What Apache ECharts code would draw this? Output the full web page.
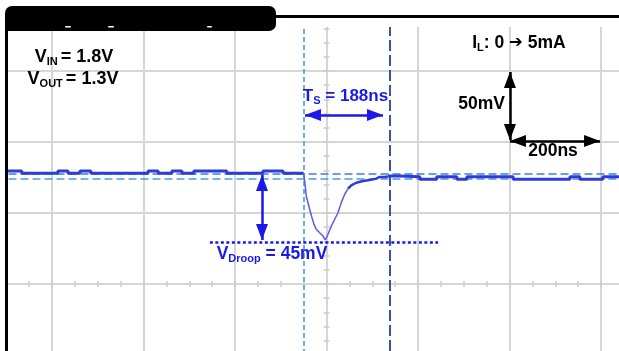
<!DOCTYPE html>
<html>
<head>
<meta charset="utf-8">
<script src="https://cdn.jsdelivr.net/npm/echarts@6.0.0/dist/echarts.min.js"></script>
<style>
html,body{margin:0;padding:0;background:#fff;}
#c{width:619px;height:351px;}
</style>
</head>
<body>
<div id="c"></div>
<script>
// ---- data (time in ns, voltage deviation in mV; scope: 200 ns/div, 50 mV/div) ----
const leftTrace = [[-700,79.5],[-666,78],[-587,79.5],[-565,78],[-539,79.5],[-515,78],[-390,79.5],[-368,78],[-338,79.5],[-316,78],[-290,79.5],[-218,78],[-139,79.5],[-95,78],[-50,78]];
const dipTrace = [[-50,78],[-47.7,72.5],[-44.2,62.0],[-36.7,52.6],[-31.7,46.7],[-27.3,42.0],[-22.3,38.5],[-14.9,36.1],[-7.7,33.8],[-2.6,31.0],[3.3,35.0],[10.5,40.8],[17.9,45.6],[25.1,50.2],[32.3,57.3],[39.8,63.2],[47.0,67.1]];
const recoveryTrace = [[47.0,67.1],[54.2,69.5],[65.1,71.3],[79.8,72.5],[94.4,73.2],[108.9,74.2],[116.3,75.4],[130.7,75.4],[134,76]];
const rightTrace = [[134,76],[161,75.5],[204,73.7],[241,75.5],[285,73.7],[307,75.5],[408,73.7],[532,75.5],[554,73.7],[604,75.5],[650,75.5]];
const timeCursors = [-50, 138];
const voltCursors = [74.3, 77.8];
const tsArrow = [[-47, 119], [123.5, 119]];
const droopArrow = [[-141, 76.8], [-141, 31]];
const droopLine = [[-255, 29.6], [244, 29.6]];
const scaleVArrow = [[401, 149.3], [401, 101.4]];
const scaleHArrow = [[401, 100.7], [598, 100.7]];
const timeTicks = [-800, 800, 200];
const voltTicks = [-100, 200, 50];

const FONT = '"Liberation Sans", Arial, sans-serif';
const BLUE = '#1a1ae6';
const TRACE = '#2f3bd6';
const GRID = '#d6d6d6';

function rt(fill, size, sub) {
  return {
    m: {fontSize: size, fontWeight: 'bold', fontFamily: FONT, fill: fill, lineHeight: 22},
    s: {fontSize: sub, fontWeight: 'bold', fontFamily: FONT, fill: fill, lineHeight: 13, verticalAlign: 'bottom'},
    a: {fontSize: size - 1, fontWeight: 'bold', fontFamily: '"DejaVu Sans", sans-serif', fill: fill, lineHeight: 22}
  };
}
function txt(text, x, y, align, fill, size, sub) {
  return {type: 'text', z: 102, style: {text: text, x: x, y: y, align: align, textAlign: align,
    verticalAlign: 'middle', textVerticalAlign: 'middle', rich: rt(fill, size, sub)}};
}

const chart = echarts.init(document.getElementById('c'), null, {renderer: 'canvas'});
const hidden = {axisLine: {show: false}, axisLabel: {show: false}, splitLine: {show: false}};
const minorStyle = {color: '#cccccc', width: 1.5};

chart.setOption({
  animation: false,
  backgroundColor: '#ffffff',
  grid: [
    {left: -39.5, right: -73.5, top: 0, bottom: -75, outerBoundsMode: 'none'},
    {left: -39.5, right: -73.5, top: 0, height: 287, outerBoundsMode: 'none'},
    {left: 323.5, width: 6, top: 0, bottom: -75, outerBoundsMode: 'none'}
  ],
  xAxis: [
    {gridIndex: 0, type: 'value', min: timeTicks[0], max: timeTicks[1], interval: timeTicks[2],
     axisLine: {show: false}, axisTick: {show: false}, axisLabel: {show: false},
     splitLine: {show: true, lineStyle: {color: GRID, width: 2}}},
    Object.assign({gridIndex: 1, type: 'value', min: timeTicks[0], max: timeTicks[1], interval: timeTicks[2], position: 'bottom',
     axisTick: {show: true, inside: true, length: 6, lineStyle: minorStyle},
     minorTick: {show: true, splitNumber: 4, length: 6, lineStyle: minorStyle}}, hidden),
    {gridIndex: 2, type: 'value', show: false, min: 0, max: 1}
  ],
  yAxis: [
    {gridIndex: 0, type: 'value', min: voltTicks[0], max: voltTicks[1], interval: voltTicks[2],
     axisLine: {show: false}, axisTick: {show: false}, axisLabel: {show: false},
     splitLine: {show: true, lineStyle: {color: GRID, width: 2}}},
    {gridIndex: 1, type: 'value', show: false, min: 0, max: 1},
    Object.assign({gridIndex: 2, type: 'value', min: voltTicks[0], max: voltTicks[1], interval: voltTicks[2], position: 'left',
     axisTick: {show: true, inside: true, length: 6, lineStyle: minorStyle},
     minorTick: {show: true, splitNumber: 5, length: 6, lineStyle: minorStyle}}, hidden)
  ],
  series: [
    {type: 'line', xAxisIndex: 0, yAxisIndex: 0, data: leftTrace, step: 'end', showSymbol: false, silent: true, z: 3,
     lineStyle: {color: TRACE, width: 3}, itemStyle: {color: TRACE},
     markLine: {silent: true, z: 1, symbol: ['none', 'none'], label: {show: false}, animation: false,
       lineStyle: {type: 'solid'}, emphasis: {disabled: true},
       data: [
         {xAxis: timeCursors[0], lineStyle: {color: '#4a90e2', width: 1.5, type: [5, 3]}},
         {xAxis: timeCursors[1], lineStyle: {color: '#36569f', width: 2, type: [11, 4]}},
         {yAxis: voltCursors[0], lineStyle: {color: '#4f98e6', width: 1.5, type: [8, 4]}},
         {yAxis: voltCursors[1], lineStyle: {color: '#3a7fdc', width: 1.5, type: [8, 4]}}
       ]}},
    {type: 'line', xAxisIndex: 0, yAxisIndex: 0, data: dipTrace, showSymbol: false, silent: true, z: 3,
     lineStyle: {color: '#5c5cdc', width: 1.5}, itemStyle: {color: '#5c5cdc'}},
    {type: 'line', xAxisIndex: 0, yAxisIndex: 0, data: recoveryTrace, showSymbol: false, silent: true, z: 3,
     lineStyle: {color: TRACE, width: 2.5}, itemStyle: {color: TRACE}},
    {type: 'line', xAxisIndex: 0, yAxisIndex: 0, data: rightTrace, step: 'end', showSymbol: false, silent: true, z: 3,
     lineStyle: {color: TRACE, width: 3}, itemStyle: {color: TRACE},
     markLine: {silent: true, z: 6, symbol: ['triangle', 'triangle'], symbolSize: [12, 16], symbolOffset: [[0, 8], [0, 8]],
       label: {show: false}, animation: false, lineStyle: {type: 'solid'}, emphasis: {disabled: true},
       data: [
         [{coord: tsArrow[0], lineStyle: {color: BLUE, width: 2.5, type: 'solid'}}, {coord: tsArrow[1]}],
         [{coord: droopArrow[0], lineStyle: {color: BLUE, width: 2.5, type: 'solid'}}, {coord: droopArrow[1]}],
         [{coord: scaleVArrow[0], lineStyle: {color: '#000', width: 2.5, type: 'solid'}}, {coord: scaleVArrow[1]}],
         [{coord: scaleHArrow[0], lineStyle: {color: '#000', width: 2.5, type: 'solid'}}, {coord: scaleHArrow[1]}],
         [{coord: droopLine[0], symbol: 'none', lineStyle: {color: BLUE, width: 2.5, type: [3, 2.5]}}, {coord: droopLine[1], symbol: 'none'}]
       ]}}
  ],
  graphic: [
    {type: 'rect', z: 100, shape: {x: 0, y: 0, width: 619, height: 27}, style: {fill: '#fff'}},
    {type: 'rect', z: 100, shape: {x: 0, y: 0, width: 5, height: 351}, style: {fill: '#fff'}},
    {type: 'rect', z: 101, shape: {x: 5, y: 6, width: 271, height: 25, r: [7, 7, 7, 0]}, style: {fill: '#000'}},
    {type: 'rect', z: 101, shape: {x: 276, y: 15, width: 343, height: 3}, style: {fill: '#000'}},
    {type: 'rect', z: 101, shape: {x: 5, y: 20, width: 3, height: 331}, style: {fill: '#000'}},
    {type: 'rect', z: 102, shape: {x: 65, y: 26, width: 6, height: 1.5, r: 0.7}, style: {fill: '#fff'}},
    {type: 'rect', z: 102, shape: {x: 108, y: 26, width: 6, height: 1.5, r: 0.7}, style: {fill: '#fff'}},
    {type: 'rect', z: 102, shape: {x: 207, y: 26, width: 5, height: 1.5, r: 0.7}, style: {fill: '#fff'}},
    txt('{m|V}{s|IN }{m|= 1.8V}', 74, 56.8, 'center', '#000', 18, 11),
    txt('{m|V}{s|OUT }{m|= 1.3V}', 73, 78.8, 'center', '#000', 18, 11),
    txt('{m|I}{s|L}{m|: 0 }{a|\u2794}{m| 5mA}', 519, 42.9, 'center', '#000', 17.5, 11),
    txt('{m|50mV}', 505, 103.9, 'right', '#000', 17.5, 11),
    txt('{m|200ns}', 553, 150.9, 'center', '#000', 17.5, 11),
    txt('{m|T}{s|S}{m| = 188ns}', 345.5, 95.9, 'center', BLUE, 17, 11),
    txt('{m|V}{s|Droop}{m| = 45mV}', 272, 253.9, 'center', BLUE, 17.5, 11)
  ]
});
</script>
</body>
</html>
